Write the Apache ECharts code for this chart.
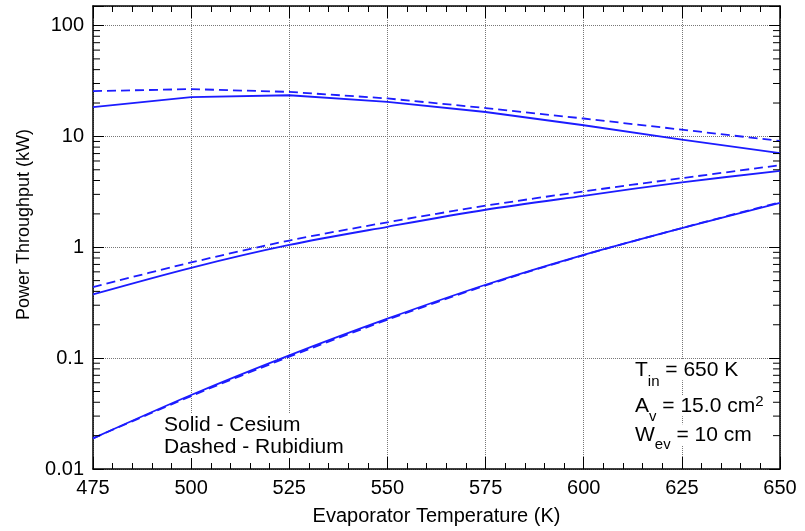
<!DOCTYPE html>
<html>
<head>
<meta charset="utf-8">
<script src="https://cdn.jsdelivr.net/npm/echarts@6/dist/echarts.min.js"></script>
<style>html,body{margin:0;padding:0;background:#fff}#c{width:805px;height:531px}</style>
</head>
<body>
<div id="c"></div>
<script>
// ---- data ----
const temps = [475, 500, 525, 550, 575, 600, 625, 650];
const cesiumHigh = [18.4, 22.6, 23.5, 20.5, 16.6, 12.6, 9.35, 7.05];
const rubidiumHigh = [25.6, 26.7, 25.2, 22.0, 18.0, 14.5, 11.5, 9.1];
const cesiumMid = [0.376, 0.653, 1.05, 1.53, 2.18, 2.91, 3.85, 4.89];
const rubidiumMid = [0.438, 0.729, 1.15, 1.68, 2.37, 3.19, 4.2, 5.5];
const cesiumLow = [0.0189, 0.0465, 0.106, 0.227, 0.459, 0.855, 1.49, 2.52];
const rubidiumLow = [0.0189, 0.0455, 0.103, 0.222, 0.452, 0.85, 1.49, 2.55];
const xTicks = [475, 500, 525, 550, 575, 600, 625, 650];
const yTicks = [0.01, 0.1, 1, 10, 100];
const yTickLabels = ['0.01', '0.1', '1', '10', '100'];

const FONT = '"Liberation Sans", Arial, Helvetica, sans-serif';
const BLUE = '#1c1cff';
const X_MIN = xTicks[0], X_MAX = xTicks[xTicks.length - 1];
const Y_MIN = 0.01, Y_MAX = 150;

function zip(xs, ys) { return xs.map((x, i) => [x, ys[i]]); }

// minor log ticks 2..9 x 10^k
const minorVals = [];
yTicks.forEach(t => { for (let m = 2; m <= 9; m++) { const v = t * m; if (v < Y_MAX) minorVals.push(v); } });

function yLabel(v) {
  const l = Math.log10(v);
  const r = Math.round(l);
  if (Math.abs(l - r) > 1e-6) return '';
  const idx = yTicks.findIndex(t => Math.abs(Math.log10(t) - r) < 1e-6);
  return idx >= 0 ? yTickLabels[idx] : '';
}

const gridLine = { show: true, lineStyle: { color: '#777', type: 'dotted', width: 1 } };
const frameLine = { show: true, onZero: false, lineStyle: { color: '#000', width: 1.5 } };

const xBase = {
  type: 'value', min: X_MIN, max: X_MAX, interval: 25,
  axisLine: frameLine,
  axisTick: { show: true, inside: true, length: 12, lineStyle: { color: '#000', width: 1 } },
  minorTick: { show: true, splitNumber: 5, length: 6, lineStyle: { color: '#000', width: 1 } },
};
const yBase = {
  type: 'log', logBase: 10, min: Y_MIN, max: Y_MAX,
  axisLine: frameLine,
  axisTick: { show: true, inside: true, length: 11, lineStyle: { color: '#000', width: 1 } },
  minorTick: { show: false },
};

function lineSeries(name, data, dashed, smooth) {
  return {
    name, type: 'line', data: zip(temps, data), showSymbol: false, symbol: 'none',
    smooth: smooth, clip: true,
    lineStyle: { color: BLUE, width: 1.8, type: dashed ? [9, 5] : 'solid' },
    z: 5
  };
}

// text with sub/superscripts, built from measured pieces
const measureCtx = document.createElement('canvas').getContext('2d');
function textWidth(t, size) { measureCtx.font = size + 'px ' + FONT; return measureCtx.measureText(t).width; }
function scriptLine(parts, left, baseline) {
  let x = left;
  const children = [];
  parts.forEach(p => {
    const yMid = baseline + (p.dy || 0) - 0.3465 * p.size;
    children.push({
      type: 'text', x: x, y: yMid, z: 100,
      style: { text: p.t, font: p.size + 'px ' + FONT, fill: '#000', align: 'left', verticalAlign: 'middle', backgroundColor: '#fff' }
    });
    x += textWidth(p.t, p.size);
  });
  return { type: 'group', z: 100, children };
}

const option = {
  animation: false,
  backgroundColor: '#fff',
  grid: { left: 93, right: 25, top: 6, bottom: 60, containLabel: false },
  xAxis: [
    Object.assign({}, xBase, {
      position: 'bottom',
      splitLine: gridLine,
      axisLabel: { show: true, margin: 9, fontSize: 20, fontFamily: FONT, color: '#000' },
      name: 'Evaporator Temperature (K)', nameLocation: 'middle', nameGap: 37,
      nameTextStyle: { fontSize: 20, fontFamily: FONT, color: '#000' }
    }),
    Object.assign({}, xBase, {
      position: 'top', splitLine: { show: false }, axisLabel: { show: false }
    })
  ],
  yAxis: [
    Object.assign({}, yBase, {
      position: 'left',
      splitLine: gridLine,
      axisLabel: { show: true, margin: 9, fontSize: 20, fontFamily: FONT, color: '#000', formatter: yLabel },
      name: 'Power Throughput (kW)', nameLocation: 'middle', nameGap: 60, nameRotate: 90,
      nameTextStyle: { fontSize: 18, fontFamily: FONT, color: '#000', padding: [0, 0, 0, 26] }
    }),
    Object.assign({}, yBase, {
      position: 'right', splitLine: { show: false }, axisLabel: { show: false }
    })
  ],
  series: [
    lineSeries('Cesium high', cesiumHigh, false, false),
    lineSeries('Rubidium high', rubidiumHigh, true, false),
    lineSeries('Cesium mid', cesiumMid, false, 0.3),
    lineSeries('Rubidium mid', rubidiumMid, true, 0.3),
    lineSeries('Cesium low', cesiumLow, false, 0.3),
    lineSeries('Rubidium low', rubidiumLow, true, 0.3),
    {
      name: 'minor y ticks', type: 'custom', silent: true, clip: false, z: 6,
      data: minorVals.map(v => [X_MIN, v]),
      renderItem: function (params, api) {
        const v = api.value(1);
        const pl = api.coord([X_MIN, v]);
        const pr = api.coord([X_MAX, v]);
        const st = { stroke: '#000', lineWidth: 1 };
        return {
          type: 'group',
          children: [
            { type: 'line', shape: { x1: pl[0], y1: pl[1], x2: pl[0] + 7, y2: pl[1] }, style: st },
            { type: 'line', shape: { x1: pr[0] - 7, y1: pr[1], x2: pr[0], y2: pr[1] }, style: st }
          ]
        };
      }
    }
  ],
  graphic: [
    {
      type: 'text', left: 164, top: 414, z: 100,
      style: {
        text: 'Solid - Cesium\nDashed - Rubidium',
        font: '21px ' + FONT, lineHeight: 22, fill: '#000', backgroundColor: '#fff'
      }
    },
    scriptLine([{ t: 'T', size: 21 }, { t: 'in', size: 15, dy: 10 }, { t: ' = 650 K', size: 21 }], 635, 377),
    scriptLine([{ t: 'A', size: 21 }, { t: 'v', size: 15, dy: 9 }, { t: ' = 15.0 cm', size: 21 }, { t: '2', size: 15, dy: -6 }], 635, 413),
    scriptLine([{ t: 'W', size: 21 }, { t: 'ev', size: 15, dy: 8 }, { t: ' = 10 cm', size: 21 }], 635, 442)
  ]
};

const chart = echarts.init(document.getElementById('c'), null, { renderer: 'canvas' });
chart.setOption(option);
</script>
</body>
</html>
